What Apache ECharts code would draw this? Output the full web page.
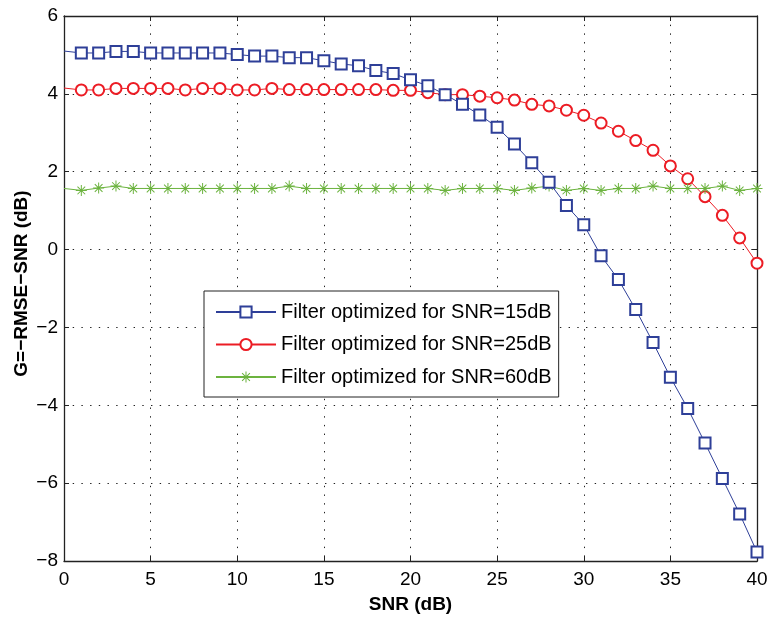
<!DOCTYPE html>
<html>
<head>
<meta charset="utf-8">
<script src="https://cdn.jsdelivr.net/npm/echarts@6/dist/echarts.min.js"></script>
<style>html,body{margin:0;padding:0;background:#fff;}#chart{width:767px;height:621px;}</style>
</head>
<body>
<div id="chart"></div>
<script>
const snr = [0,1,2,3,4,5,6,7,8,9,10,11,12,13,14,15,16,17,18,19,20,21,22,23,24,25,26,27,28,29,30,31,32,33,34,35,36,37,38,39,40];
const filter15 = [5.10,5.05,5.05,5.09,5.09,5.05,5.05,5.05,5.05,5.05,5.01,4.97,4.97,4.93,4.93,4.85,4.77,4.72,4.60,4.52,4.36,4.21,3.98,3.73,3.46,3.14,2.71,2.23,1.73,1.13,0.64,-0.16,-0.77,-1.54,-2.39,-3.28,-4.08,-4.97,-5.88,-6.79,-7.77];
const filter25 = [4.15,4.10,4.10,4.14,4.14,4.14,4.14,4.10,4.14,4.14,4.10,4.10,4.14,4.11,4.11,4.11,4.11,4.11,4.11,4.09,4.09,4.03,3.98,3.98,3.94,3.90,3.84,3.73,3.69,3.58,3.45,3.25,3.04,2.80,2.55,2.15,1.82,1.36,0.88,0.30,-0.35];
const filter60 = [1.57,1.52,1.58,1.63,1.57,1.57,1.57,1.57,1.57,1.57,1.57,1.57,1.57,1.63,1.57,1.57,1.57,1.57,1.57,1.57,1.57,1.57,1.52,1.57,1.57,1.57,1.52,1.58,1.63,1.52,1.57,1.52,1.57,1.57,1.63,1.57,1.57,1.57,1.63,1.52,1.57];
const seriesNames = ['Filter optimized for SNR=15dB','Filter optimized for SNR=25dB','Filter optimized for SNR=60dB'];
const xTicks = [0,5,10,15,20,25,30,35,40];
const yTicks = [-8,-6,-4,-2,0,2,4,6];

const FONT = 'Liberation Sans, Arial, Helvetica, sans-serif';
const asterisk = 'path://M0 9.1L20 9.1L20 10.9L0 10.9Z M9.1 0L10.9 0L10.9 20L9.1 20Z M3.64 2.36L17.64 16.36L16.36 17.64L2.36 3.64Z M17.64 3.64L3.64 17.64L2.36 16.36L16.36 2.36Z';

function mk(vals) {
  return snr.map((x, i) => i === 0 ? { value: [x, vals[i]], symbol: 'none' } : [x, vals[i]]);
}
const minus = v => String(v).replace('-', '\u2212');

const chart = echarts.init(document.getElementById('chart'), null, { renderer: 'canvas' });
const axisLine = { show: true, onZero: false, lineStyle: { color: '#222', width: 1.3 } };
const tick = { show: true, inside: true, length: 5, lineStyle: { color: '#222', width: 1 } };
const grid = { show: true, lineStyle: { color: '#222', type: [1.4, 7.3], width: 1 } };

chart.setOption({
  animation: false,
  textStyle: { fontFamily: FONT },
  grid: { left: 64, right: 10, top: 16, bottom: 60, containLabel: false, outerBoundsMode: 'none' },
  xAxis: [
    {
      type: 'value', min: 0, max: 40, interval: 5, position: 'bottom',
      name: 'SNR (dB)', nameLocation: 'middle', nameGap: 34, nameMoveOverlap: false,
      nameTextStyle: { fontSize: 19, fontWeight: 'bold', color: '#000', fontFamily: FONT },
      axisLine: axisLine, axisTick: tick, splitLine: grid,
      axisLabel: { fontSize: 19, color: '#000', margin: 9, fontFamily: FONT, formatter: minus }
    },
    {
      type: 'value', min: 0, max: 40, interval: 5, position: 'top',
      axisLine: axisLine, axisTick: tick, splitLine: { show: false }, axisLabel: { show: false }
    }
  ],
  yAxis: [
    {
      type: 'value', min: -8, max: 6, interval: 2, position: 'left',
      name: 'G=\u2212RMSE\u2212SNR (dB)', nameLocation: 'middle', nameGap: 33, nameMoveOverlap: false,
      nameTextStyle: { fontSize: 19, fontWeight: 'bold', color: '#000', fontFamily: FONT, padding: [0, 0, 0, 10] },
      axisLine: axisLine, axisTick: tick, splitLine: grid,
      axisLabel: { fontSize: 19, color: '#000', margin: 6, fontFamily: FONT, formatter: minus }
    },
    {
      type: 'value', min: -8, max: 6, interval: 2, position: 'right',
      axisLine: axisLine, axisTick: tick, splitLine: { show: false }, axisLabel: { show: false }
    }
  ],
  legend: {
    orient: 'vertical', left: 204, top: 291,
    backgroundColor: '#fff', borderColor: '#222', borderWidth: 1,
    padding: [11, 7, 10, 11],
    itemWidth: 60, itemHeight: 14, itemGap: 12.5,
    textStyle: { fontSize: 20, color: '#000', fontFamily: FONT },
    data: seriesNames
  },
  series: [
    {
      name: seriesNames[0], type: 'line', data: mk(filter15),
      symbol: 'emptyRect', symbolSize: 11, showAllSymbol: true,
      lineStyle: { color: '#2e3f98', width: 1 },
      itemStyle: { color: '#2e3f98', borderColor: '#2e3f98', borderWidth: 1.2 },
      z: 3
    },
    {
      name: seriesNames[1], type: 'line', data: mk(filter25),
      symbol: 'emptyCircle', symbolSize: 11, showAllSymbol: true,
      lineStyle: { color: '#ec1c24', width: 1 },
      itemStyle: { color: '#ec1c24', borderColor: '#ec1c24', borderWidth: 1.2 },
      z: 2
    },
    {
      name: seriesNames[2], type: 'line', data: mk(filter60),
      symbol: asterisk, symbolSize: 11, showAllSymbol: true,
      lineStyle: { color: '#6cb33f', width: 1 },
      itemStyle: { color: '#6cb33f' },
      z: 2
    }
  ]
});
</script>
</body>
</html>
